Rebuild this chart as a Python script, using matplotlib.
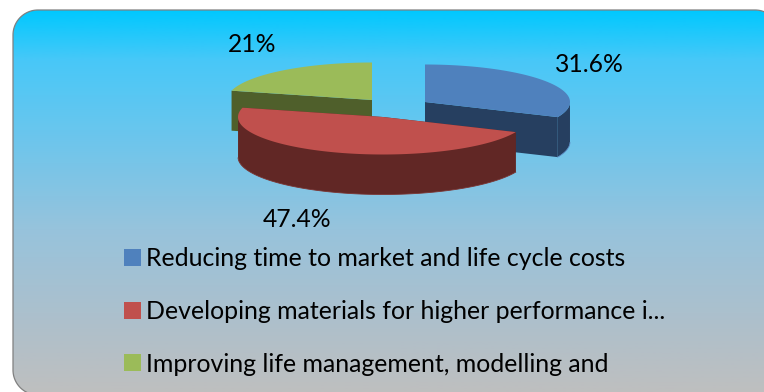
import numpy as np
import matplotlib
matplotlib.use("Agg")
import matplotlib.pyplot as plt
from matplotlib.patches import PathPatch, Patch
from matplotlib.path import Path
from matplotlib.colors import LinearSegmentedColormap

plt.rcParams['font.family'] = ['Lato', 'DejaVu Sans']

categories = ["Reducing time to market and life cycle costs",
              "Developing materials for higher performance i...",
              "Improving life management, modelling and"]
values = [31.6, 47.4, 21.0]
value_labels = ["31.6%", "47.4%", "21%"]
top_colors = ["#4F81BD", "#C0504D", "#9BBB59"]
side_colors = ["#263F60", "#612725", "#4F5F2B"]
edge_colors = ["#5F8FC8", "#7A3533", "#5F7035"]
centres = [(425, 102), (383, 117), (372, 100)]
label_pos = [(589, 64.5), (297, 219), (252, 44.5)]

W, H = 764, 392
A, B, DEPTH = 145, 37.5, 40
L, T, R, BOT, RAD = 13, 10, 780, 395, 25

fig = plt.figure(figsize=(W / 100, H / 100), dpi=100)
ax = fig.add_axes([0, 0, 1, 1])

corner = np.linspace(0, np.pi / 2, 24)
px = np.r_[L + RAD - RAD * np.cos(corner), R - RAD + RAD * np.sin(corner),
           R - RAD + RAD * np.cos(corner), L + RAD - RAD * np.sin(corner)]
py = np.r_[T + RAD - RAD * np.sin(corner), T + RAD - RAD * np.cos(corner),
           BOT - RAD + RAD * np.sin(corner), BOT - RAD + RAD * np.cos(corner)]
panel = PathPatch(Path(np.c_[np.r_[px, px[0]], np.r_[py, py[0]]]), facecolor="none",
                  edgecolor="#808080", linewidth=0.9, zorder=2)
ax.add_patch(panel)

stops = [(0.0, "#00C8FF"), (0.13, "#48C8F8"), (0.31, "#68C6EE"),
         (0.57, "#97C3DC"), (0.86, "#B2BFC8"), (1.0, "#BFBFBF")]
cmap = LinearSegmentedColormap.from_list("bg", stops)
grad = np.linspace(0, 1, 256)[:, None]
im = ax.imshow(grad, extent=(L, R, BOT, T), cmap=cmap, aspect="auto", zorder=1)
im.set_clip_path(panel)
ax.set_xlim(0, W)
ax.set_ylim(H, 0)
ax.axis("off")

# pie angles, clockwise from 12 o'clock
edges = np.deg2rad(np.concatenate([[0], np.cumsum(values)]) / sum(values) * 360)


def rim(c, t):
    return c[0] + A * np.sin(t), c[1] - B * np.cos(t)


def draw_slice(i, zorder):
    c = centres[i]
    t0, t1 = edges[i], edges[i + 1]
    t = np.linspace(t0, t1, 120)
    x, y = rim(c, t)
    for a in (t0, t1):
        ex, ey = rim(c, a)
        ax.fill([c[0], ex, ex, c[0]], [c[1], ey, ey + DEPTH, c[1] + DEPTH],
                color=side_colors[i], lw=0, zorder=zorder)
    vis = (t >= np.pi / 2) & (t <= 3 * np.pi / 2)
    if vis.any():
        vx, vy = x[vis], y[vis]
        ax.fill(np.r_[vx, vx[::-1]], np.r_[vy, vy[::-1] + DEPTH],
                color=side_colors[i], lw=0, zorder=zorder + 0.1)
        ax.plot(vx, vy + DEPTH, color=edge_colors[i], lw=0.6, zorder=zorder + 0.15)
    ax.fill(np.r_[c[0], x], np.r_[c[1], y], color=top_colors[i], lw=0, zorder=zorder + 0.2)


for i, z in zip([2, 0, 1], [3, 4, 5]):
    draw_slice(i, z)

for lab, (lx, ly) in zip(value_labels, label_pos):
    ax.text(lx, ly, lab, ha="center", va="center", fontsize=17.7, color="#000000", zorder=8)

handles = [Patch(facecolor=c, edgecolor="none") for c in top_colors]
leg = ax.legend(handles, categories, loc="upper left", bbox_to_anchor=(124, 247),
                bbox_transform=ax.transData, frameon=False, fontsize=17.9,
                handlelength=0.68, handleheight=0.68, handletextpad=0.19,
                labelspacing=1.2, borderpad=0, borderaxespad=0)
leg.set_zorder(8)

fig.savefig("out.png", dpi=100, facecolor="white")
